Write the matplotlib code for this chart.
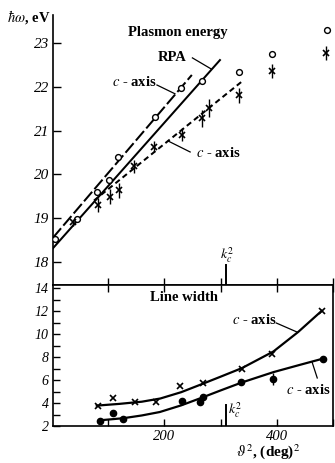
import matplotlib
matplotlib.use("Agg")
import matplotlib.pyplot as plt

plt.rcParams['font.family'] = ['Liberation Serif', 'DejaVu Serif']
plt.rcParams['mathtext.fontset'] = 'stix'
plt.rcParams['lines.scale_dashes'] = False

# ---------------- data: plasmon energy (top panel) ----------------
perp_theta2 = [5, 44, 80, 102, 117, 184, 230, 267, 333, 391, 489]
perp_energy = [18.52, 18.97, 19.60, 19.87, 20.40, 21.32, 21.97, 22.14, 22.33, 22.75, 23.30]

par_theta2 = [38, 83, 104, 120, 146, 182, 231, 267, 280, 333, 391, 488]
par_energy = [18.91, 19.30, 19.49, 19.63, 20.18, 20.63, 20.90, 21.28, 21.52, 21.81, 22.36, 22.78]
par_err = [0.08, 0.16, 0.17, 0.17, 0.15, 0.12, 0.15, 0.2, 0.2, 0.17, 0.17, 0.16]

perp_fit_theta2 = [2, 249]
perp_fit_energy = [18.55, 22.27]
rpa_theta2 = [2, 299]
rpa_energy = [18.31, 22.61]
par_fit_theta2 = [75, 338]
par_fit_energy = [19.40, 22.12]

kc2 = 309

# ---------------- data: line width (bottom panel) ----------------
lw_par_theta2 = [83, 109, 148, 186, 228, 268, 338, 391, 480]
lw_par_width = [3.75, 4.43, 4.13, 4.13, 5.51, 5.75, 6.97, 8.32, 12.03]

lw_perp_theta2 = [86, 109, 127, 231, 264, 269, 336, 393, 482]
lw_perp_width = [2.46, 3.11, 2.59, 4.22, 4.13, 4.57, 5.80, 6.10, 7.85]
lw_perp_err = [0, 0, 0, 0, 0, 0, 0, 0.5, 0]

curve_par_theta2 = [80, 120, 160, 193, 230, 264, 300, 338, 394, 438, 480]
curve_par_width = [3.78, 3.93, 4.12, 4.40, 4.95, 5.60, 6.30, 7.05, 8.50, 10.20, 12.05]
curve_perp_theta2 = [86, 127, 160, 192, 230, 264, 300, 338, 394, 440, 480]
curve_perp_width = [2.50, 2.68, 2.92, 3.22, 3.80, 4.42, 5.10, 5.80, 6.70, 7.32, 7.85]

top_yticks = [18, 19, 20, 21, 22, 23]
bot_yticks = [2, 4, 6, 8, 10, 12, 14]
x_ticks = [100, 200, 300, 400, 500]
x_ticklabels = ['', '200', '', '400', '']

fig = plt.figure(figsize=(3.35, 4.63), dpi=100)
ax1 = fig.add_axes([0.158, 0.3844, 0.836, 0.5832])
ax2 = fig.add_axes([0.158, 0.0799, 0.836, 0.3045])

lwid = 1.45
# ---- top panel ----
ax1.plot(perp_fit_theta2, perp_fit_energy, color='black', lw=lwid, dashes=(9, 2.5))
ax1.plot(rpa_theta2, rpa_energy, color='black', lw=lwid)
ax1.plot(par_fit_theta2, par_fit_energy, color='black', lw=lwid, dashes=(4, 2.6))
ax1.plot(perp_theta2, perp_energy, 'o', mfc='white', mec='black', ms=4.2, mew=1.0, zorder=5)
ax1.errorbar(par_theta2, par_energy, yerr=par_err, fmt='x', color='black', ms=4.5, mew=1.2,
             elinewidth=1.0, capsize=0, zorder=5)

ax1.set_xlim(2, 500)
ax1.set_ylim(17.47, 23.64)
ax1.spines['top'].set_visible(False)
ax1.spines['right'].set_visible(False)
for s in ax1.spines.values():
    s.set_linewidth(1.2)
ax1.set_yticks(top_yticks)
ax1.set_yticklabels([str(v) for v in top_yticks], fontsize=11, fontstyle='italic')
ax1.set_xticks(x_ticks)
ax1.set_xticklabels([])
ax1.tick_params(axis='y', direction='in', length=6, width=1.0, pad=3)
ax1.tick_params(axis='x', direction='in', length=5, width=1.0)

# k_c^2 marker (top)
ax1.plot([kc2, kc2], [17.47, 17.93], color='black', lw=1.4)
ax1.text(kc2 + 3, 18.14, '$k_c^2$', fontsize=10, ha='center', va='center')

ax1.text(224, 23.23, 'Plasmon energy', fontsize=10.5, fontweight='bold', ha='center', va='center')
ax1.text(214, 22.68, 'RPA', fontsize=10.5, fontweight='bold', ha='center', va='center')
ax1.plot([250, 283], [22.66, 22.41], color='black', lw=0.9)
ax1.text(146, 22.11, '$c$ - axis', fontsize=10.5, fontweight='bold', ha='center', va='center')
ax1.plot([187, 219], [22.04, 21.84], color='black', lw=0.9)
ax1.text(296, 20.49, '$c$ - axis', fontsize=10.5, fontweight='bold', ha='center', va='center')
ax1.plot([246, 207], [20.51, 20.76], color='black', lw=0.9)

# ---- bottom panel ----
ax2.plot(curve_par_theta2, curve_par_width, color='black', lw=1.6)
ax2.plot(curve_perp_theta2, curve_perp_width, color='black', lw=1.6)
ax2.plot(lw_par_theta2, lw_par_width, 'x', color='black', ms=4, mew=1.2, zorder=5)
ax2.errorbar(lw_perp_theta2, lw_perp_width, yerr=lw_perp_err, fmt='o', color='black', ms=4.5,
             elinewidth=1.0, capsize=0, zorder=5)

ax2.set_xlim(2, 500)
ax2.set_ylim(2, 14.3)
for s in ax2.spines.values():
    s.set_linewidth(1.2)
ax2.set_yticks(bot_yticks)
ax2.set_yticklabels([str(v) for v in bot_yticks], fontsize=10, fontstyle='italic')
ax2.set_yticks(list(range(3, 14, 2)), minor=True)
ax2.set_xticks(x_ticks)
ax2.set_xticklabels(x_ticklabels, fontsize=10.5, fontstyle='italic')
ax2.tick_params(axis='y', which='both', direction='in', length=5, width=1.0, pad=3)
ax2.tick_params(axis='x', direction='in', length=5, width=1.0, top=True, pad=3)

ax2.plot([kc2, kc2], [2, 3.83], color='black', lw=1.4)
ax2.text(kc2 + 4, 3.4, '$k_c^2$', fontsize=10, ha='left', va='center')

ax2.text(235, 13.2, 'Line width', fontsize=10.5, fontweight='bold', ha='center', va='center')
ax2.text(360, 11.25, '$c$ - axis', fontsize=10.5, fontweight='bold', ha='center', va='center')
ax2.plot([399, 436], [10.99, 10.2], color='black', lw=0.9)
ax2.text(456, 5.14, '$c$ - axis', fontsize=10.5, fontweight='bold', ha='center', va='center')
ax2.plot([472, 463], [6.19, 7.55], color='black', lw=0.9)

fig.text(0.087, 0.963, r'$\hbar\omega$, eV', fontsize=10.5, fontweight='bold', ha='center', va='center')
fig.text(0.80, 0.024, r'$\vartheta^2$, (deg)$^2$', fontsize=11, fontweight='bold', ha='center', va='center')

fig.savefig('out.png', dpi=100)
